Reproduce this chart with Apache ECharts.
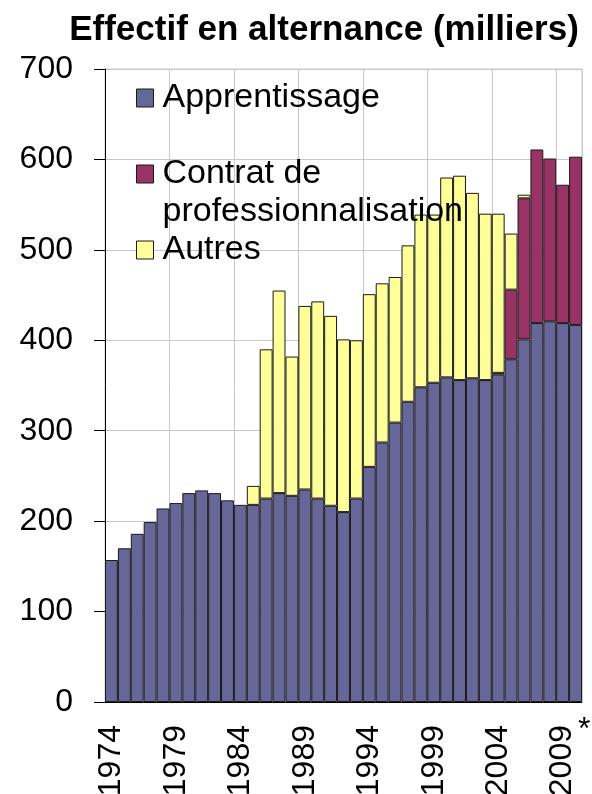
<!DOCTYPE html>
<html><head><meta charset="utf-8">
<script src="https://cdn.jsdelivr.net/npm/echarts@6/dist/echarts.min.js"></script>
<style>html,body{margin:0;padding:0;background:#fff}#c{width:592px;height:794px}</style>
</head><body><div id="c"></div>
<script>
const years = ["1974","1975","1976","1977","1978","1979","1980","1981","1982","1983","1984","1985","1986","1987","1988","1989","1990","1991","1992","1993","1994","1995","1996","1997","1998","1999","2000","2001","2002","2003","2004","2005","2006","2007","2008","2009","2010"];
const apprentissage = [157,170,186,199,214,220,231,234,231,223,218,218,225,231,228,235,225,217,210,225,260,287,309,332,348,353,359,356,358,356,362,379,401,419,421,419,417];
const contrat = [null,null,null,null,null,null,null,null,null,null,null,null,null,null,null,null,null,null,null,null,null,null,null,null,null,null,null,null,null,null,2,77,156,192,180,153,186];
const autres = [null,null,null,null,null,null,null,null,null,null,null,21,165,224,154,203,218,210,191,175,191,176,161,173,191,186,221,226,205,184,176,62,4,null,null,null,null];
const seriesNames = ["Apprentissage","Contrat de professionnalisation","Autres"];
const yTicks = [0,100,200,300,400,500,600,700];

const font = 'Arial, "Liberation Sans", sans-serif';
const chart = echarts.init(document.getElementById('c'), null, {renderer:'canvas'});
const border = {borderColor:'#1a1a1a', borderWidth:1};
chart.setOption({
  animation:false,
  backgroundColor:'#fff',
  title:{text:'Effectif en alternance (milliers)', left:319, top:8, textAlign:'center',
    textStyle:{fontFamily:font, fontWeight:'bold', fontSize:35, color:'#000'}},
  legend:{orient:'vertical', left:136, top:79, padding:0, itemWidth:17, itemHeight:18, itemGap:0,
    icon:'rect', data:seriesNames,
    formatter:function(n){ return n===seriesNames[1] ? ' \nContrat de\nprofessionnalisation' : n; },
    textStyle:{fontFamily:font, fontSize:34, color:'#000', lineHeight:38, padding:[0,0,0,4]},
    itemStyle:{borderColor:'#1a1a1a', borderWidth:1}},
  grid:{left:105, right:10, top:69, bottom:92, outerBoundsMode:'none', containLabel:false,
    show:true, borderColor:'#c8c8c8', borderWidth:1},
  xAxis:{type:'category', data:years, boundaryGap:true,
    axisLine:{lineStyle:{color:'#000', width:1}},
    axisTick:{interval:4, length:11, lineStyle:{color:'#000'}},
    splitLine:{show:true, interval:4, lineStyle:{color:'#c8c8c8', width:1}},
    axisLabel:{interval:4, rotate:90, margin:23, fontFamily:font, fontSize:32, color:'#000'}},
  yAxis:{type:'value', min:yTicks[0], max:yTicks[yTicks.length-1], interval:100,
    axisLine:{show:true, lineStyle:{color:'#000', width:1}},
    axisTick:{show:true, length:11, lineStyle:{color:'#000'}},
    splitLine:{lineStyle:{color:'#c8c8c8', width:1}},
    axisLabel:{margin:32, fontFamily:font, fontSize:32, color:'#000'}},
  graphic:[{type:'text', left:578, top:714, style:{text:'*', fontFamily:font, fontSize:32, fill:'#000'}}],
  series:[
    {name:seriesNames[0], type:'bar', stack:'t', data:apprentissage, barCategoryGap:'0%', itemStyle:Object.assign({color:'#666699'},border)},
    {name:seriesNames[1], type:'bar', stack:'t', data:contrat, barCategoryGap:'0%', itemStyle:Object.assign({color:'#993366'},border)},
    {name:seriesNames[2], type:'bar', stack:'t', data:autres, barCategoryGap:'0%', itemStyle:Object.assign({color:'#FFFF99'},border)}
  ]
});
</script></body></html>
